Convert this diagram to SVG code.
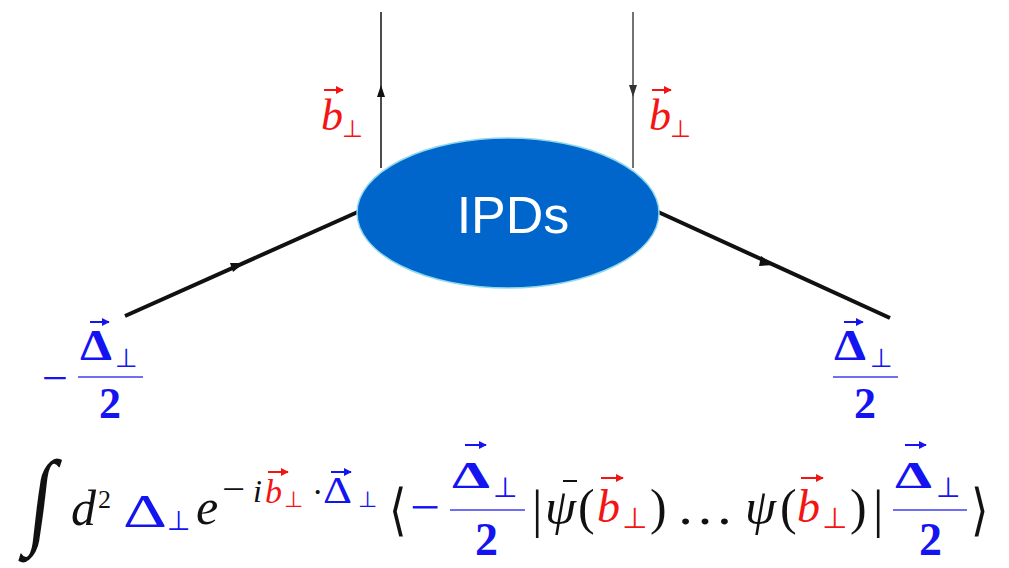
<svg xmlns="http://www.w3.org/2000/svg" width="1009" height="568" viewBox="0 0 1009 568">
<style>
.it{font-family:"Liberation Serif","DejaVu Serif",serif;font-style:italic;fill:#111}
.rm{font-family:"Liberation Serif","DejaVu Serif",serif;fill:#111}
.sy{font-family:"DejaVu Sans",sans-serif;fill:#111}
.b{fill:#1414f0}
.r{fill:#f41414}
.bd{font-weight:bold}
.fbar{stroke:#6f6ff5;stroke-width:2}
.va{stroke-width:2;fill:none}
.vr{stroke:#f41414}.vb{stroke:#1414f0}
.ln{stroke:#111;fill:none}
.lt{font-weight:200}
</style>
<defs>
<marker id="vr" viewBox="0 0 10 10" refX="9" refY="5" markerWidth="4" markerHeight="4" orient="auto"><path d="M0,0L10,5L0,10z" fill="#f41414"/></marker>
<marker id="vb" viewBox="0 0 10 10" refX="9" refY="5" markerWidth="4" markerHeight="4" orient="auto"><path d="M0,0L10,5L0,10z" fill="#1414f0"/></marker>
</defs>

<g id="connectors">
<line class="ln" x1="381" y1="168" x2="381" y2="12" stroke-width="1.5"/>
<path d="M381,85 L377,97 L385,97z" fill="#111"/>
<line class="ln" x1="633" y1="12" x2="633" y2="168" stroke-width="1.5" style="stroke:#444"/>
<path d="M633,97 L629,85 L637,85z" fill="#333"/>
<line class="ln" x1="125" y1="316" x2="360" y2="211" stroke-width="4"/>
<path d="M244,263 L230,263 L233,272z" fill="#111"/>
<line class="ln" x1="656" y1="211" x2="890" y2="318" stroke-width="4"/>
<path d="M774,265 L761,256 L759,266z" fill="#111"/>
</g>

<g id="node-ipds">
<ellipse cx="508" cy="213" rx="151" ry="75" fill="#0066cc" stroke="#8ed8ea" stroke-width="1.5"/>
<text x="513" y="233" text-anchor="middle" font-family="Liberation Sans, Arial, sans-serif" font-size="52" fill="#fff">IPDs</text>
</g>

<g id="label-b-left">
<text class="it r" x="321" y="130" font-size="44">b</text>
<line class="va vr" x1="324" y1="90" x2="343" y2="90" marker-end="url(#vr)"/>
<text class="sy r" x="342" y="137" font-size="24">⊥</text>
</g>
<g id="label-b-right">
<text class="it r" x="649" y="130" font-size="44">b</text>
<line class="va vr" x1="652" y1="90" x2="671" y2="90" marker-end="url(#vr)"/>
<text class="sy r" x="670" y="137" font-size="24">⊥</text>
</g>

<g id="label-delta-left">
<text class="rm b" x="42" y="393" font-size="44" textLength="26" lengthAdjust="spacingAndGlyphs">−</text>
<text class="rm b bd" x="80" y="360" font-size="44" textLength="32" lengthAdjust="spacingAndGlyphs">Δ</text>
<line class="va vb" x1="90" y1="322" x2="109" y2="322" marker-end="url(#vb)"/>
<text class="sy b" x="115" y="367" font-size="26">⊥</text>
<line class="fbar" x1="78" y1="377" x2="143" y2="377"/>
<text class="rm b bd" x="99" y="418" font-size="44">2</text>
</g>
<g id="label-delta-right">
<text class="rm b bd" x="834" y="360" font-size="44" textLength="32" lengthAdjust="spacingAndGlyphs">Δ</text>
<line class="va vb" x1="844" y1="322" x2="863" y2="322" marker-end="url(#vb)"/>
<text class="sy b" x="870" y="367" font-size="26">⊥</text>
<line class="fbar" x1="833" y1="377" x2="898" y2="377"/>
<text class="rm b bd" x="854" y="418" font-size="44">2</text>
</g>

<g id="formula">
<text class="rm" x="0" y="0" font-size="106" transform="translate(26 534) scale(0.78 1) skewX(-9)">∫</text>
<text class="it" x="71" y="525" font-size="50">d</text>
<text class="rm" x="98" y="508" font-size="26">2</text>
<text class="rm b" x="123" y="527" font-size="46" textLength="44" lengthAdjust="spacingAndGlyphs">Δ</text>
<text class="sy b" x="167" y="530" font-size="27">⊥</text>
<text class="it" x="196" y="524" font-size="50">e</text>
<text class="rm" x="222" y="501" font-size="36" textLength="23" lengthAdjust="spacingAndGlyphs">−</text>
<text class="it" x="253" y="502" font-size="32">i</text>
<text class="it r" x="265" y="503" font-size="34">b</text>
<line class="va vr" x1="268" y1="472" x2="288" y2="472" marker-end="url(#vr)"/>
<text class="sy r" x="284" y="507" font-size="22">⊥</text>
<text class="rm" x="312" y="503" font-size="34">·</text>
<text class="rm b" x="323" y="503" font-size="38" textLength="29" lengthAdjust="spacingAndGlyphs">Δ</text>
<line class="va vb" x1="331" y1="472" x2="351" y2="472" marker-end="url(#vb)"/>
<text class="sy b" x="358" y="507" font-size="22">⊥</text>
<text class="sy lt" x="0" y="0" font-size="56" transform="translate(389 529) scale(0.8 1)">⟨</text>
<text class="rm b" x="410" y="524" font-size="50" textLength="30" lengthAdjust="spacingAndGlyphs">−</text>
<line class="fbar" x1="450" y1="510" x2="525" y2="510"/>
<text class="rm b bd" x="452" y="488" font-size="38" textLength="38" lengthAdjust="spacingAndGlyphs">Δ</text>
<line class="va vb" x1="465" y1="445" x2="486" y2="445" marker-end="url(#vb)"/>
<text class="sy b" x="493" y="497" font-size="28">⊥</text>
<text class="rm b bd" x="475" y="555" font-size="46">2</text>
<text class="rm" x="532" y="527" font-size="52">|</text>
<text class="it" x="545" y="524" font-size="50">ψ</text>
<line x1="563" y1="481" x2="577" y2="481" stroke="#111" stroke-width="2"/>
<text class="rm" x="578" y="524" font-size="50">(</text>
<text class="it r" x="597" y="522" font-size="46">b</text>
<line class="va vr" x1="601" y1="478" x2="623" y2="478" marker-end="url(#vr)"/>
<text class="sy r" x="622" y="528" font-size="29">⊥</text>
<text class="rm" x="650" y="524" font-size="50">)</text>
<text class="rm" x="676" y="524" font-size="50" textLength="58" lengthAdjust="spacingAndGlyphs">…</text>
<text class="it" x="745" y="524" font-size="50">ψ</text>
<text class="rm" x="780" y="524" font-size="50">(</text>
<text class="it r" x="797" y="522" font-size="46">b</text>
<line class="va vr" x1="801" y1="478" x2="823" y2="478" marker-end="url(#vr)"/>
<text class="sy r" x="822" y="528" font-size="29">⊥</text>
<text class="rm" x="850" y="524" font-size="50">)</text>
<text class="rm" x="873" y="527" font-size="52">|</text>
<line class="fbar" x1="893" y1="510" x2="967" y2="510"/>
<text class="rm b bd" x="895" y="488" font-size="38" textLength="37" lengthAdjust="spacingAndGlyphs">Δ</text>
<line class="va vb" x1="905" y1="445" x2="926" y2="445" marker-end="url(#vb)"/>
<text class="sy b" x="936" y="497" font-size="28">⊥</text>
<text class="rm b bd" x="919" y="555" font-size="46">2</text>
<text class="sy lt" x="0" y="0" font-size="56" transform="translate(971 529) scale(0.8 1)">⟩</text>
</g>
</svg>
